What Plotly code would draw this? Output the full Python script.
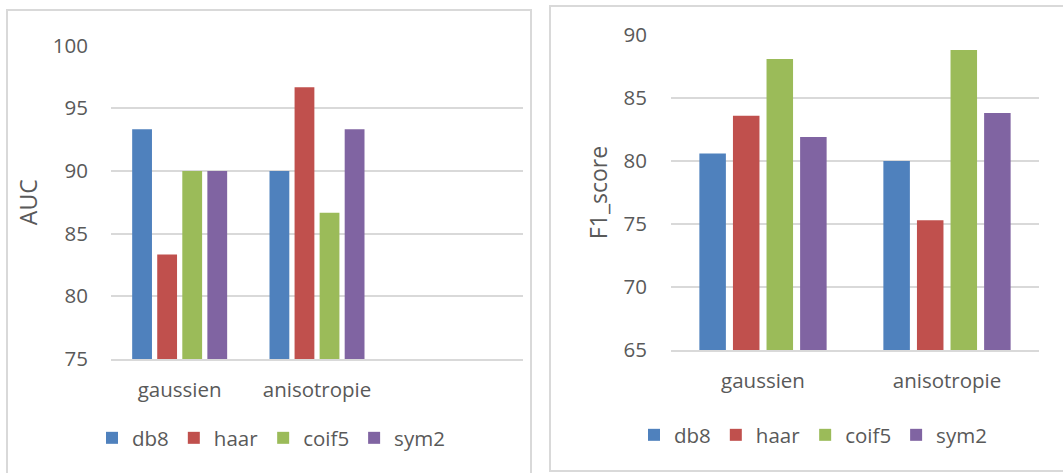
import plotly.graph_objects as go

W, H = 1063, 473

categories = ["gaussien", "anisotropie"]
series = ["db8", "haar", "coif5", "sym2"]
colors = ["#4F81BD", "#C0504D", "#9BBB59", "#8064A2"]

auc_db8 = [93.33, 90.0]
auc_haar = [83.33, 96.67]
auc_coif5 = [90.0, 86.67]
auc_sym2 = [90.0, 93.33]

f1_db8 = [80.6, 80.0]
f1_haar = [83.6, 75.3]
f1_coif5 = [88.1, 88.8]
f1_sym2 = [81.9, 83.8]

auc_ticks = [75, 80, 85, 90, 95, 100]
f1_ticks = [65, 70, 75, 80, 85, 90]

auc_values = [auc_db8, auc_haar, auc_coif5, auc_sym2]
f1_values = [f1_db8, f1_haar, f1_coif5, f1_sym2]


def fx(px):
    return px / W


def fy(py):
    return 1 - py / H


FONT = "Open Sans"
TXT = "#595959"
GRID = "#d9d9d9"

fig = go.Figure()

for name, vals, col in zip(series, auc_values, colors):
    fig.add_trace(go.Bar(x=categories, y=vals, name=name, marker_color=col,
                         marker_line_width=0, xaxis="x", yaxis="y",
                         legend="legend"))
for name, vals, col in zip(series, f1_values, colors):
    fig.add_trace(go.Bar(x=categories, y=vals, name=name, marker_color=col,
                         marker_line_width=0, xaxis="x2", yaxis="y2",
                         legend="legend2"))

tickfont = dict(family=FONT, size=20.5, color=TXT)
titlefont = dict(family=FONT, size=23, color=TXT)

fig.update_layout(
    width=W, height=H,
    margin=dict(l=0, r=0, t=0, b=0),
    paper_bgcolor="white", plot_bgcolor="white",
    barmode="group", bargap=0.27, bargroupgap=0.21,
    font=dict(family=FONT, color=TXT),
    xaxis=dict(domain=[fx(111), fx(523)], anchor="y", type="category",
               categoryarray=categories + [" "], categoryorder="array",
               range=[-0.5, 2.5], tickvals=categories,
               showgrid=False, showline=True, linecolor=GRID, linewidth=1.5,
               ticks="outside", ticklen=12, tickcolor="rgba(0,0,0,0)",
               tickfont=tickfont, automargin=False, fixedrange=True),
    yaxis=dict(domain=[fy(359), fy(45.5)], anchor="x", range=[75, 100],
               tickvals=auc_ticks, showgrid=True, gridcolor=GRID, gridwidth=1.5,
               zeroline=False, showline=False,
               ticks="outside", ticklen=18, tickcolor="rgba(0,0,0,0)",
               tickfont=tickfont, automargin=False,
               title=dict(text="AUC", font=titlefont, standoff=8)),
    xaxis2=dict(domain=[fx(671), fx(1039)], anchor="y2", type="category",
                categoryarray=categories, categoryorder="array",
                range=[-0.5, 1.5],
                showgrid=False, showline=True, linecolor=GRID, linewidth=1.5,
                ticks="outside", ticklen=12, tickcolor="rgba(0,0,0,0)",
                tickfont=tickfont, automargin=False),
    yaxis2=dict(domain=[fy(350), fy(35)], anchor="x2", range=[65, 90],
                tickvals=f1_ticks, showgrid=True, gridcolor=GRID, gridwidth=1.5,
                zeroline=False, showline=False,
                ticks="outside", ticklen=19, tickcolor="rgba(0,0,0,0)",
                tickfont=tickfont, automargin=False,
                title=dict(text="F1_score", font=titlefont, standoff=9)),
    legend=dict(orientation="h", x=fx(92), xanchor="left", y=fy(438),
                yanchor="middle", font=dict(family=FONT, size=20.5, color=TXT),
                bgcolor="rgba(0,0,0,0)", traceorder="normal"),
    legend2=dict(orientation="h", x=fx(634), xanchor="left", y=fy(435),
                 yanchor="middle", font=dict(family=FONT, size=20.5, color=TXT),
                 bgcolor="rgba(0,0,0,0)", traceorder="normal"),
    shapes=[
        dict(type="rect", xref="paper", yref="paper",
             x0=fx(7), x1=fx(531), y0=fy(480), y1=fy(10),
             line=dict(color=GRID, width=2), fillcolor="rgba(0,0,0,0)", layer="below"),
        dict(type="rect", xref="paper", yref="paper",
             x0=fx(550), x1=fx(1075), y0=fy(471), y1=fy(6),
             line=dict(color=GRID, width=2), fillcolor="rgba(0,0,0,0)", layer="below"),
    ],
)

fig.write_html("out.html", config={"displayModeBar": False},
               post_script="document.body.style.margin='0';")
